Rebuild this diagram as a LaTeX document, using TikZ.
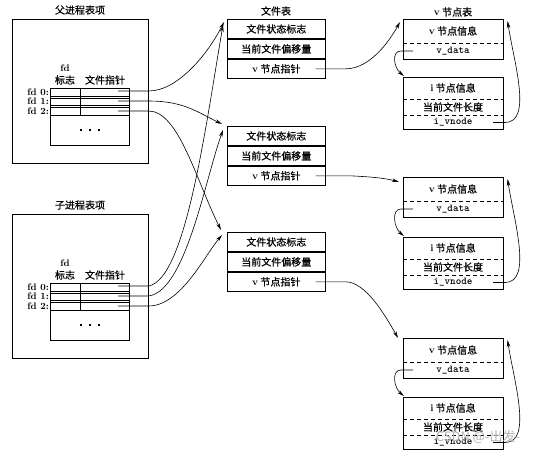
\documentclass[tikz,border=0pt]{standalone}
\usepackage{fontspec}
\newfontfamily\cjk[FakeBold=0.6]{Noto Sans CJK SC}
\newfontfamily\cjkwm{Noto Sans CJK SC}
\usetikzlibrary{arrows.meta,calc}
\begin{document}
\begin{tikzpicture}[x=1pt,y=-1pt,
  font=\fontsize{10}{11}\selectfont,
  box/.style={draw,line width=0.6pt,inner sep=0pt},
  cell/.style={draw,line width=0.6pt,minimum width=98pt,minimum height=19.33pt,inner sep=0pt,font=\cjk\fontsize{10}{11}\selectfont},
  lbl/.style={font=\cjk\fontsize{10}{11}\selectfont,inner sep=0pt},
  txt/.style={inner sep=0pt,font=\bfseries\fontsize{9.5}{10}\selectfont},
  tt/.style={inner sep=0pt,font=\ttfamily\bfseries\fontsize{10.5}{11}\selectfont},
  conn/.style={line width=0.6pt,-{Stealth[length=7pt,width=3.6pt]}},
  dsh/.style={line width=0.5pt,dash pattern=on 4pt off 3pt}
]
\useasboundingbox (0,0) rectangle (538,456);

% ---------- process table entries ----------
\foreach \n/\dy/\ttl in {p/0/父进程表项, c/195/子进程表项} {
  \begin{scope}[yshift=-\dy pt]
    \node[lbl] (\n-title) at (80,10) {\ttl};
    \node[box,minimum width=136pt,minimum height=144pt,anchor=north west] (\n-box) at (12,19) {};
    \node[box,minimum width=79pt,minimum height=57pt,anchor=north west] (\n-tab) at (50,88) {};
    \draw[line width=0.5pt] (50,96) -- (129,96) (50,98) -- (129,98)
                            (50,105) -- (129,105) (50,107) -- (129,107)
                            (50,115) -- (129,115) (80,88) -- (80,115);
    \node[txt] (\n-fd) at (65,68) {fd};
    \node[lbl] (\n-flag) at (65,80) {标志};
    \node[lbl] (\n-fp) at (105,80) {文件指针};
    \node[txt,anchor=east] (\n-l0) at (49,92) {fd 0:};
    \node[txt,anchor=east] (\n-l1) at (49,101.5) {fd 1:};
    \node[txt,anchor=east] (\n-l2) at (49,111) {fd 2:};
    \node[txt] (\n-dots) at (90,130) {\rule{1.8pt}{1.8pt}\hspace{7pt}\rule{1.8pt}{1.8pt}\hspace{7pt}\rule{1.8pt}{1.8pt}};
    \coordinate (\n-p0) at (118,91);
    \coordinate (\n-p1) at (118,101);
    \coordinate (\n-p2) at (118,111);
  \end{scope}
}

% ---------- file table ----------
\node[lbl] (ft-title) at (276,11) {文件表};
\foreach \i/\top in {1/19, 2/126, 3/232} {
  \node[cell,anchor=north west] (ft\i-a) at (227,\top) {文件状态标志};
  \node[cell,anchor=north] (ft\i-b) at (ft\i-a.south) {当前文件偏移量};
  \node[cell,anchor=north] (ft\i-c) at (ft\i-b.south) {{\rmfamily\bfseries v} 节点指针};
  \coordinate (fp\i) at ($(ft\i-c.east)+(-10,0)$);
}

% ---------- v-node table ----------
\node[lbl] (vn-title) at (453,12) {{\rmfamily\bfseries v} 节点表};
\foreach \i/\vt/\it in {1/19/77, 2/177/237, 3/338/397} {
  \node[box,minimum width=100pt,minimum height=40pt,anchor=north west] (vn\i) at (403,\vt) {};
  \node[lbl] (vn\i-info) at (453,\vt+12) {{\rmfamily\bfseries v} 节点信息};
  \draw[dsh] (403,\vt+24) -- (503,\vt+24);
  \node[tt] (vn\i-data) at (453,\vt+32) {v\_data};
  \coordinate (vd\i) at (413,\vt+32);
  \node[box,minimum width=100pt,minimum height=52pt,anchor=north west] (in\i) at (403,\it) {};
  \node[lbl] (in\i-info) at (453,\it+11) {{\rmfamily\bfseries i} 节点信息};
  \draw[dsh] (403,\it+22) -- (503,\it+22);
  \node[lbl] (in\i-len) at (453,\it+30) {当前文件长度};
  \draw[dsh] (403,\it+38) -- (503,\it+38);
  \node[tt] (in\i-vn) at (453,\it+45.5) {i\_vnode};
  \coordinate (iv\i) at (493,\it+45.5);
  % v_data -> i-node
  \draw[conn] (vd\i) -- ++(-12,0) .. controls +(-10,0) and +(-10,-8) .. ($(in\i.north west)+(1,-1)$);
  % i_vnode -> v-node
  \draw[conn] (iv\i) -- ++(12,0) .. controls +(28,0) and +(6,40) .. ($(vn\i.north east)+(4,2)$);
}

% ---------- process fds -> file table ----------
\draw[conn] (p-p0) -- (p-p0 -| p-box.east) .. controls +(30,0) and +(-15,30) .. ($(ft1-a.north west)+(-3,3)$);
\draw[conn] (p-p1) -- (p-p1 -| p-box.east) .. controls +(35,0) and +(-25,-12) .. ($(ft2-a.north west)+(-5,-2)$);
\draw[conn] (p-p2) -- (p-p2 -| p-box.east) .. controls +(30,0) and +(-25,-50) .. ($(ft3-a.north west)+(-6,-2)$);
\draw[conn] (c-p0) -- (c-p0 -| c-box.east) .. controls +(37,-7) and +(-18,105) .. ($(ft1-a.north west)+(-4,6)$);
\draw[conn] (c-p1) -- (c-p1 -| c-box.east) .. controls +(37,-5) and +(-18,50) .. ($(ft2-a.north west)+(-4,4)$);
\draw[conn] (c-p2) -- (c-p2 -| c-box.east) .. controls +(32,0) and +(-17,20) .. ($(ft3-a.north west)+(-5,3)$);

% ---------- file table -> v-node table ----------
\draw[conn] (fp1) -- ++(30,0) .. controls +(25,0) and +(-10,18) .. ($(vn1.north west)+(-3,3)$);
\draw[conn] (fp2) -- ++(35,0) .. controls +(20,1) and +(-14,-4) .. ($(vn2.north west)+(-4,5)$);
\draw[conn] (fp3) -- ++(30,0) .. controls +(20,0) and +(-13,-23) .. ($(vn3.north west)+(-5,0)$);

% watermark
\node[inner sep=0pt,text=black!30,font=\cjkwm\fontsize{13}{14}\selectfont] (wm) at (478,437) {CSDN @-出发-};
\end{tikzpicture}
\end{document}
